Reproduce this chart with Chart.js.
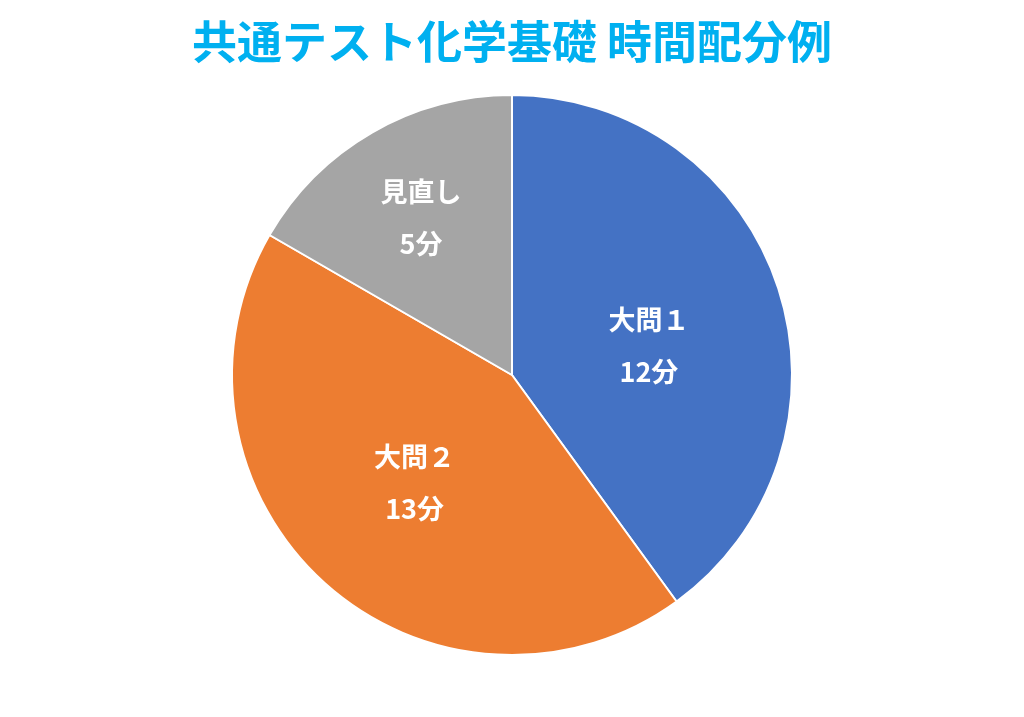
<!DOCTYPE html>
<html>
<head>
<meta charset="utf-8">
<script src="https://cdn.jsdelivr.net/npm/chart.js@4"></script>
<style>
  html, body { margin: 0; padding: 0; background: #fff; }
  #wrap { width: 1024px; height: 717px; }
</style>
</head>
<body>
<div id="wrap"><canvas id="pie" width="1024" height="717"></canvas></div>
<script>
// data
const categories = ["大問１", "大問２", "見直し"];
const minutes = [12, 13, 5];
const colors = ["#4472c4", "#ed7d31", "#a5a5a5"];
const titleText = "共通テスト化学基礎 時間配分例";

// label placement (fraction of radius, angle nudge in degrees)
const labelRadius = [0.5, 0.52, 0.65];
const labelNudge = [6, 0, 0];

const FONT = "'Noto Sans CJK JP', 'Noto Sans', sans-serif";

const sliceLabels = {
  id: "sliceLabels",
  afterDatasetsDraw(chart) {
    const ctx = chart.ctx;
    const meta = chart.getDatasetMeta(0);
    ctx.save();
    ctx.fillStyle = "#ffffff";
    ctx.font = "bold 27px " + FONT;
    ctx.textAlign = "center";
    ctx.textBaseline = "middle";
    meta.data.forEach((arc, i) => {
      const p = arc.getProps(["x", "y", "startAngle", "endAngle", "outerRadius"], true);
      const mid = (p.startAngle + p.endAngle) / 2 + labelNudge[i] * Math.PI / 180;
      const r = p.outerRadius * labelRadius[i];
      const x = p.x + Math.cos(mid) * r;
      const y = p.y + Math.sin(mid) * r;
      ctx.fillText(categories[i], x, y - 26);
      ctx.fillText(minutes[i] + "分", x, y + 26);
    });
    ctx.restore();
  }
};

new Chart(document.getElementById("pie"), {
  type: "pie",
  data: {
    labels: categories,
    datasets: [{
      data: minutes,
      backgroundColor: colors,
      borderColor: "#ffffff",
      borderWidth: 2,
      hoverOffset: 0,
      radius: 280
    }]
  },
  options: {
    responsive: false,
    animation: false,
    layout: { padding: { top: 0, bottom: 62 } },
    plugins: {
      legend: { display: false },
      tooltip: { enabled: false },
      title: {
        display: true,
        text: titleText,
        color: "#00b0f0",
        font: { family: FONT, size: 45, weight: "bold" },
        padding: { top: 15, bottom: 26 }
      }
    }
  },
  plugins: [sliceLabels]
});
</script>
</body>
</html>
